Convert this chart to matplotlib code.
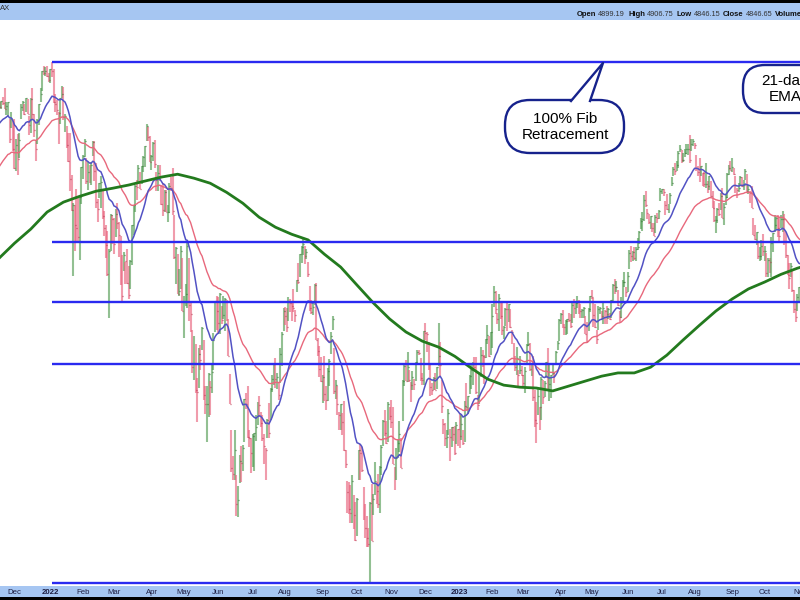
import matplotlib
matplotlib.use("Agg")
import matplotlib.pyplot as plt
import numpy as np
import pandas as pd
from matplotlib.lines import Line2D
from matplotlib.patches import FancyBboxPatch, Polygon, Rectangle
from matplotlib.transforms import Affine2D, blended_transform_factory

plt.rcParams["font.family"] = ["Liberation Sans", "DejaVu Sans"]

# --- data: S&P 500 daily bars, Nov 16 2021 .. Nov 2 2023 ---
start_date = "2021-11-16"
end_date = "2023-11-02"
holidays = ["2021-11-25", "2021-12-24", "2022-01-17", "2022-02-21", "2022-04-15",
            "2022-05-30", "2022-06-20", "2022-07-04", "2022-09-05", "2022-11-24",
            "2022-12-26", "2023-01-02", "2023-01-16", "2023-02-20", "2023-04-07",
            "2023-05-29", "2023-06-19", "2023-07-04", "2023-09-04"]

high = [
    4714, 4701, 4705, 4717, 4743, 4701, 4702, 4651, 4672, 4646,
    4652, 4595, 4608, 4612, 4695, 4705, 4695, 4713, 4710, 4660, 4712, 4743, 4666, 4592, 4651, 4697, 4741, 4791, 4807, 4804, 4808, 4787,
    4797, 4819, 4798, 4725, 4708, 4673, 4714, 4749, 4744, 4666, 4632, 4611, 4612, 4495, 4417, 4412, 4454, 4429, 4432, 4517,
    4550, 4595, 4542, 4530, 4521, 4531, 4590, 4588, 4527, 4427, 4472, 4490, 4456, 4394, 4356, 4340, 4294, 4386, 4385,
    4375, 4401, 4416, 4365, 4327, 4276, 4285, 4258, 4292, 4247, 4263, 4358, 4412, 4465, 4481, 4522, 4501, 4520, 4546, 4575, 4637, 4628, 4603,
    4549, 4587, 4593, 4503, 4521, 4521, 4465, 4472, 4453, 4453, 4412, 4471, 4488, 4513, 4385, 4299, 4279, 4241, 4301, 4270,
    4169, 4201, 4308, 4270, 4158, 4082, 4069, 4049, 3964, 4039, 4046, 4090, 4058, 3945, 3944, 3975, 3955, 3999, 4076, 4158, 4169,
    4166, 4177, 4143, 4169, 4164, 4160, 4110, 3974, 3838, 3777, 3837, 3732, 3707, 3779, 3801, 3802, 3913, 3927, 3945, 3837, 3818,
    3829, 3832, 3875, 3906, 3919, 3882, 3873, 3829, 3796, 3864, 3903, 3938, 3972, 3999, 4013, 3976, 3954, 4039, 4078, 4140,
    4141, 4140, 4167, 4161, 4152, 4187, 4133, 4211, 4257, 4280, 4301, 4325, 4302, 4293, 4259, 4196, 4159, 4156, 4200, 4203, 4062, 4044, 4015,
    3970, 4018, 3943, 3987, 4010, 4077, 4119, 4039, 3959, 3944, 3880, 3900, 3878, 3907, 3790, 3720, 3716, 3710, 3733, 3687, 3671,
    3680, 3791, 3806, 3797, 3705, 3666, 3640, 3613, 3672, 3712, 3689, 3762, 3716, 3736, 3754, 3802, 3862, 3887, 3860, 3905, 3893,
    3911, 3894, 3751, 3796, 3814, 3860, 3818, 3958, 4001, 4009, 4028, 3983, 3954, 3980, 3962, 4003, 4034, 4034, 4013, 3977, 4080,
    4101, 4077, 4052, 4001, 3951, 3966, 3977, 3991, 4101, 4053, 3959, 3864, 3854, 3839, 3889, 3841, 3846, 3846, 3848, 3858, 3840,
    3878, 3873, 3839, 3907, 3951, 3919, 3970, 3997, 4003, 4015, 4015, 3921, 3973, 4040, 4032, 4020, 4060, 4095, 4068, 4077,
    4148, 4195, 4183, 4126, 4176, 4156, 4157, 4094, 4138, 4157, 4149, 4136, 4082, 4051, 4017, 4040, 3983, 4018, 3994,
    3972, 3990, 4048, 4078, 4050, 4000, 4018, 3935, 3905, 3938, 3894, 3965, 3958, 3956, 4003, 4039, 4000, 3972, 3997, 3979, 4030, 4056, 4110,
    4127, 4133, 4099, 4108, 4110, 4125, 4124, 4151, 4163, 4152, 4169, 4160, 4148, 4136, 4142, 4118, 4104, 4139, 4170,
    4186, 4164, 4149, 4083, 4143, 4142, 4131, 4155, 4133, 4143, 4138, 4127, 4160, 4202, 4213, 4209, 4186, 4132, 4166, 4212, 4231, 4193,
    4232, 4290, 4300, 4288, 4299, 4298, 4322, 4340, 4376, 4391, 4439, 4449, 4400, 4387, 4382, 4362, 4363, 4384, 4390, 4398, 4458,
    4456, 4454, 4423, 4440, 4413, 4443, 4488, 4517, 4528, 4532, 4562, 4578, 4564, 4555, 4568, 4580, 4582, 4607, 4594, 4594,
    4585, 4551, 4519, 4540, 4519, 4500, 4502, 4528, 4476, 4490, 4476, 4450, 4421, 4382, 4402, 4418, 4443, 4459, 4418, 4440, 4500, 4521, 4532,
    4541, 4514, 4490, 4458, 4473, 4490, 4488, 4479, 4511, 4497, 4466, 4449, 4462, 4376, 4357, 4338, 4314, 4298, 4317, 4334,
    4300, 4281, 4268, 4268, 4324, 4336, 4385, 4378, 4385, 4378, 4383, 4394, 4386, 4339, 4278, 4256, 4255, 4236, 4185, 4156, 4175, 4194,
    4245, 4319,
]

low = [
    4694, 4684, 4682, 4694, 4682, 4665, 4660, 4585, 4625, 4560,
    4510, 4504, 4495, 4540, 4652, 4674, 4665, 4671, 4667, 4606, 4612, 4651, 4600, 4532, 4582, 4636, 4700, 4734, 4780, 4778, 4775, 4761,
    4758, 4774, 4699, 4671, 4663, 4582, 4638, 4713, 4650, 4614, 4569, 4530, 4449, 4395, 4222, 4287, 4311, 4309, 4264, 4414,
    4484, 4544, 4470, 4451, 4471, 4465, 4548, 4478, 4402, 4365, 4429, 4403, 4374, 4327, 4268, 4222, 4114, 4287, 4307,
    4280, 4324, 4345, 4271, 4199, 4157, 4234, 4200, 4202, 4162, 4189, 4251, 4330, 4392, 4425, 4468, 4455, 4469, 4502, 4517, 4589, 4589, 4530,
    4507, 4534, 4514, 4450, 4450, 4477, 4411, 4382, 4393, 4391, 4365, 4390, 4449, 4384, 4267, 4200, 4175, 4171, 4188, 4132,
    4062, 4145, 4139, 4106, 4077, 3976, 3958, 3928, 3858, 3939, 3983, 4034, 3911, 3877, 3810, 3870, 3875, 3926, 3984, 4077, 4083,
    4073, 4074, 4097, 4110, 4081, 4107, 4018, 3900, 3740, 3722, 3722, 3639, 3636, 3715, 3717, 3743, 3810, 3889, 3820, 3799, 3738,
    3752, 3742, 3812, 3850, 3869, 3846, 3811, 3759, 3721, 3818, 3818, 3861, 3930, 3946, 3938, 3936, 3911, 3951, 3992, 4080,
    4096, 4079, 4107, 4129, 4107, 4128, 4103, 4180, 4201, 4219, 4256, 4277, 4253, 4265, 4218, 4131, 4124, 4120, 4147, 4057, 4017, 3965, 3954,
    3903, 3907, 3886, 3907, 3945, 4023, 4083, 3924, 3913, 3875, 3838, 3839, 3827, 3789, 3750, 3647, 3644, 3623, 3623, 3610, 3584,
    3594, 3722, 3722, 3739, 3631, 3591, 3569, 3569, 3491.6, 3583, 3641, 3687, 3667, 3657, 3645, 3733, 3800, 3825, 3804, 3809, 3863,
    3843, 3758, 3699, 3722, 3773, 3787, 3748, 3859, 3944, 3956, 3953, 3954, 3906, 3935, 3933, 3956, 3999, 4020, 3956, 3947, 3946,
    4058, 4027, 3984, 3919, 3922, 3933, 3933, 3936, 3993, 3965, 3879, 3828, 3800, 3796, 3827, 3765, 3797, 3813, 3780, 3806, 3800,
    3795, 3815, 3802, 3810, 3887, 3877, 3925, 3937, 3947, 3984, 3925, 3885, 3900, 3965, 3990, 3950, 4013, 4048, 4015, 4020,
    4037, 4142, 4123, 4098, 4080, 4111, 4070, 4061, 4092, 4080, 4104, 4088, 4048, 3995, 3981, 3971, 3944, 3974, 3968,
    3939, 3928, 3995, 4044, 3980, 3969, 3908, 3846, 3808, 3874, 3838, 3862, 3901, 3916, 3964, 3936, 3908, 3914, 3970, 3951, 3999, 4032, 4056,
    4098, 4087, 4070, 4070, 4073, 4102, 4087, 4100, 4113, 4124, 4139, 4124, 4114, 4114, 4114, 4072, 4050, 4080, 4128,
    4162, 4090, 4088, 4048, 4082, 4124, 4112, 4099, 4099, 4099, 4110, 4109, 4114, 4154, 4176, 4180, 4145, 4104, 4114, 4152, 4192, 4167,
    4181, 4241, 4259, 4260, 4263, 4262, 4291, 4305, 4346, 4340, 4369, 4407, 4372, 4360, 4345, 4337, 4328, 4336, 4361, 4372, 4422,
    4442, 4436, 4385, 4398, 4389, 4413, 4464, 4490, 4493, 4504, 4514, 4557, 4527, 4531, 4545, 4553, 4549, 4528, 4560, 4574,
    4567, 4505, 4490, 4474, 4491, 4464, 4461, 4458, 4444, 4453, 4433, 4404, 4365, 4335, 4363, 4380, 4398, 4375, 4356, 4411, 4431, 4494, 4507,
    4501, 4493, 4443, 4430, 4448, 4467, 4460, 4453, 4479, 4447, 4442, 4416, 4402, 4329, 4316, 4303, 4265, 4262, 4264, 4274,
    4260, 4220, 4220, 4229, 4219, 4284, 4339, 4345, 4325, 4311, 4349, 4338, 4303, 4270, 4223, 4189, 4219, 4181, 4127, 4104, 4132, 4153,
    4197, 4268,
]

close = [
    4701, 4688, 4704, 4698, 4682, 4691, 4701, 4595, 4655, 4567,
    4513, 4577, 4538, 4591, 4686, 4701, 4667, 4712, 4668, 4634, 4709, 4668, 4620, 4568, 4649, 4697, 4725, 4791, 4786, 4793, 4778, 4766,
    4797, 4793, 4700, 4696, 4677, 4670, 4713, 4726, 4659, 4662, 4577, 4532, 4483, 4398, 4410, 4356, 4350, 4326, 4432, 4516,
    4546, 4589, 4477, 4501, 4484, 4522, 4587, 4504, 4419, 4401, 4472, 4475, 4380, 4349, 4304, 4226, 4288, 4385, 4374,
    4306, 4387, 4363, 4329, 4201, 4171, 4278, 4260, 4204, 4173, 4262, 4358, 4412, 4463, 4461, 4512, 4456, 4520, 4543, 4575, 4632, 4602, 4530,
    4546, 4583, 4525, 4481, 4500, 4488, 4413, 4397, 4447, 4392, 4392, 4463, 4459, 4394, 4272, 4296, 4175, 4183, 4288, 4132,
    4155, 4175, 4300, 4147, 4123, 3991, 4001, 3935, 3930, 4024, 4008, 4088, 3923, 3901, 3901, 3974, 3941, 3979, 4058, 4158, 4132,
    4101, 4176, 4109, 4121, 4161, 4116, 4018, 3901, 3750, 3735, 3790, 3667, 3675, 3765, 3760, 3796, 3912, 3901, 3821, 3819, 3785,
    3825, 3831, 3845, 3903, 3899, 3855, 3819, 3801, 3791, 3863, 3831, 3937, 3960, 3999, 3962, 3967, 3921, 4024, 4072, 4130,
    4119, 4091, 4155, 4152, 4145, 4140, 4122, 4210, 4207, 4280, 4297, 4305, 4275, 4284, 4228, 4138, 4128, 4141, 4199, 4058, 4031, 3986, 3955,
    3967, 3924, 3909, 3980, 4006, 4067, 4110, 3932, 3946, 3901, 3873, 3900, 3856, 3790, 3758, 3693, 3655, 3647, 3719, 3641, 3586,
    3678, 3791, 3783, 3744, 3640, 3612, 3589, 3577, 3669, 3583, 3677, 3720, 3695, 3666, 3752, 3797, 3859, 3830, 3807, 3901, 3872,
    3856, 3759, 3720, 3771, 3807, 3828, 3749, 3956, 3993, 3957, 3991, 3959, 3947, 3965, 3950, 4003, 4027, 4026, 3964, 3958, 4080,
    4076, 4072, 3999, 3941, 3934, 3963, 3934, 3991, 4019, 3996, 3896, 3852, 3818, 3821, 3879, 3822, 3845, 3829, 3783, 3849, 3840,
    3824, 3853, 3808, 3895, 3893, 3919, 3969, 3983, 3999, 3991, 3929, 3899, 3973, 4020, 4017, 4016, 4060, 4071, 4018, 4077,
    4119, 4180, 4136, 4111, 4164, 4118, 4082, 4090, 4137, 4136, 4148, 4090, 4079, 3997, 3991, 4012, 3970, 3982, 3970,
    3951, 3981, 4046, 4048, 3986, 3992, 3918, 3862, 3855, 3920, 3892, 3960, 3917, 3951, 4002, 3937, 3948, 3971, 3977, 3971, 4027, 4051, 4109,
    4124, 4101, 4091, 4105, 4110, 4109, 4092, 4146, 4138, 4152, 4155, 4154, 4130, 4133, 4138, 4072, 4056, 4136, 4169,
    4168, 4120, 4091, 4061, 4136, 4138, 4119, 4138, 4131, 4124, 4136, 4110, 4159, 4198, 4192, 4192, 4146, 4116, 4151, 4205, 4206, 4180,
    4221, 4282, 4273, 4284, 4268, 4294, 4299, 4338, 4369, 4373, 4426, 4410, 4389, 4366, 4381, 4348, 4328, 4378, 4377, 4396, 4450,
    4455, 4447, 4412, 4399, 4409, 4439, 4473, 4510, 4505, 4523, 4555, 4566, 4535, 4536, 4555, 4567, 4567, 4537, 4582, 4589,
    4577, 4513, 4502, 4478, 4518, 4499, 4468, 4469, 4464, 4490, 4437, 4404, 4370, 4370, 4400, 4388, 4436, 4376, 4406, 4433, 4497, 4514, 4508,
    4516, 4497, 4465, 4451, 4457, 4487, 4462, 4467, 4505, 4450, 4454, 4444, 4402, 4330, 4320, 4337, 4274, 4275, 4300, 4288,
    4288, 4229, 4263, 4258, 4308, 4336, 4358, 4376, 4349, 4328, 4373, 4373, 4314, 4278, 4224, 4217, 4248, 4186, 4137, 4117, 4167, 4194,
    4238, 4318,
]

# 200-day moving average, every 10th bar (+ last bar)
sma200_idx = list(range(0, 491, 10)) + [493]
sma200 = [4266, 4308, 4346, 4392, 4419, 4435, 4449, 4457, 4466, 4477,
          4488, 4496, 4485, 4471, 4446, 4416, 4378, 4351, 4332, 4317,
          4279, 4245, 4198, 4152, 4111, 4078, 4055, 4040, 4017, 3988,
          3961, 3946, 3941, 3939, 3932, 3944, 3956, 3968, 3976, 3976,
          3990, 4020, 4058, 4095, 4131, 4162, 4188, 4206, 4226, 4242, 4246]

ema21_seed = 4630
ema50_seed = 4505
fib_ratios = [0.0, 0.382, 0.5, 0.618, 1.0]

header_fields = [("Open", "4899.19"), ("High", "4906.75"), ("Low", "4846.15"),
                 ("Close", "4846.65"), ("Volume", "2.4B")]


def ema(values, span, seed):
    alpha = 2.0 / (span + 1)
    out, prev = [], seed
    for v in values:
        prev = prev + alpha * (v - prev)
        out.append(prev)
    return np.array(out)


dates = pd.bdate_range(start_date, end_date)
dates = dates[~dates.isin(pd.to_datetime(holidays))]
n = min(len(dates), len(close))
dates = dates[:n]
high = np.array(high[:n], float)
low = np.array(low[:n], float)
close = np.array(close[:n], float)
x = np.arange(n)

fig = plt.figure(figsize=(8, 6), dpi=100)
ax = fig.add_axes([0, 14 / 600, 1, 566 / 600])
ax.set_yscale("log")
ax.set_ylim(3485, 4946)
jan_peak = int(np.argmax(high))
ax.set_xlim(jan_peak - 52 / 1.631, jan_peak + 748 / 1.631)
ax.axis("off")

# OHLC-style bars, coloured against the previous close
up = np.r_[True, close[1:] >= close[:-1]]
bar_cols = np.where(up, "#4f9a4f", "#e8607a")
tick_cols = np.where(up, "#2a6a2a", "#b03048")
ax.vlines(x, low, high, colors=bar_cols, lw=1.5, alpha=0.62, zorder=2)
ax.hlines(close, x, x + 0.6, colors=tick_cols, lw=0.9, alpha=0.8, zorder=2)

# moving averages
ax.plot(x, ema(close, 50, ema50_seed), color="#e8687c", lw=1.0, zorder=3)
ax.plot(x, ema(close, 21, ema21_seed), color="#5252c4", lw=1.1, zorder=3)
ax.plot(sma200_idx, sma200, color="#237a1e", lw=2.0, zorder=3)

# Fibonacci retracement levels from the Jan 2022 high to the Oct 2022 low
top, bottom = high.max(), low.min()
for r in fib_ratios:
    ax.hlines(bottom + (top - bottom) * r, jan_peak, n + 5, color="#2a2af0", lw=1.7,
              zorder=4)

# header and footer bars (behind the axes)
bar_blue = "#a6c6f2"
for y0, h, c in [(1 - 20 / 600, 17 / 600, bar_blue), (1 - 3 / 600, 3 / 600, "black"),
                 (3 / 600, 11 / 600, bar_blue), (0, 3 / 600, "black")]:
    fig.add_artist(Rectangle((0, y0), 1, h, transform=fig.transFigure, color=c,
                             lw=0, zorder=-5))

fig.text(0.0, 1 - 8 / 600, "AX", fontsize=5.5, color="#333333", va="center")
renderer = fig.canvas.get_renderer()
xpos = 577
for name, value in header_fields:
    t = fig.text(xpos / 800, 1 - 15 / 600, name, fontsize=5.5, fontweight="bold",
                 color="#111111", va="center")
    xpos = t.get_window_extent(renderer).x1 + 1.8
    t = fig.text(xpos / 800, 1 - 15 / 600, value, fontsize=5.3, color="#333333",
                 va="center")
    xpos = t.get_window_extent(renderer).x1 + 3.0

# month labels on the first trading day of each month
trans = blended_transform_factory(ax.transData, fig.transFigure)
months = pd.Series(dates.month)
firsts = np.where(months.ne(months.shift()).values)[0]
for i in firsts[1:]:
    d = dates[i]
    lab = str(d.year) if d.month == 1 else d.strftime("%b")
    fig.text(i, 8 / 600, lab, transform=trans, ha="center", va="center",
             fontsize=5.6, fontweight="bold" if d.month == 1 else "normal",
             color="#1c1c40", zorder=10)

# callouts (pixel coordinates, origin top-left)
px = Affine2D().scale(1 / 800, -1 / 600).translate(0, 1) + fig.transFigure
navy = "#16228c"
box1 = FancyBboxPatch((505, 100), 119, 53, boxstyle="round,pad=0,rounding_size=25",
                      transform=px, fc="white", ec=navy, lw=1.7, zorder=6)
fig.add_artist(box1)
fig.add_artist(Polygon([(571, 102), (603, 63), (590, 102)], closed=True, transform=px,
                       fc="white", ec="none", zorder=7))
fig.add_artist(Line2D([571, 603, 590], [101, 63, 101], transform=px, color=navy,
                      lw=1.7, zorder=8))
fig.text(565.5 / 800, 1 - 127 / 600, "100% Fib\nRetracement", ha="center",
         va="center", fontsize=11, zorder=9)

box2 = FancyBboxPatch((743, 65), 84, 48, boxstyle="round,pad=0,rounding_size=22",
                      transform=px, fc="white", ec=navy, lw=1.7, zorder=6)
fig.add_artist(box2)
fig.text(785 / 800, 1 - 89 / 600, "21-day\nEMA", ha="center", va="center",
         fontsize=11, zorder=9)

fig.savefig("out.png", dpi=100)
